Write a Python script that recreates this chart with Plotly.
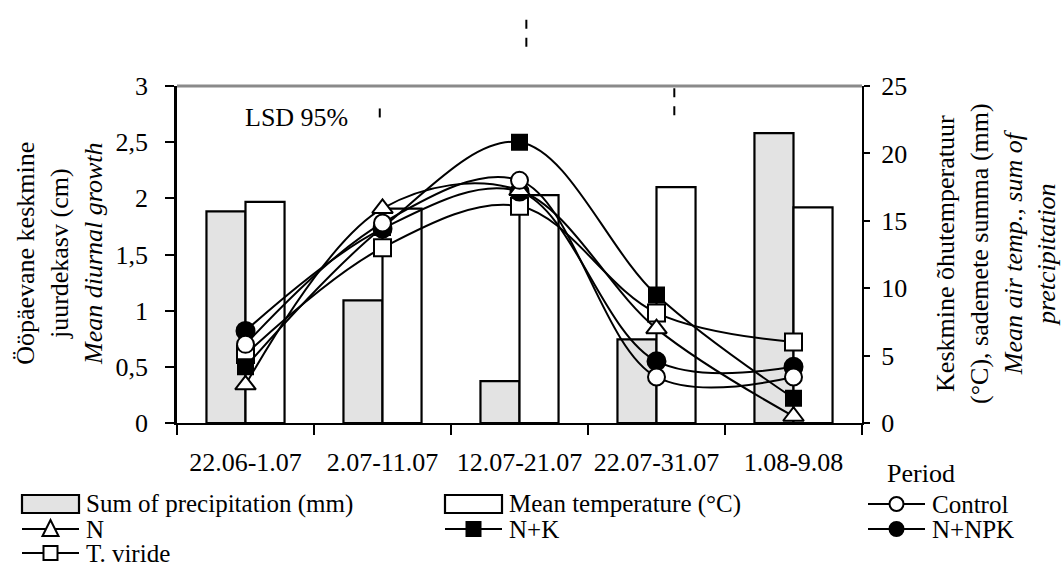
import plotly.graph_objects as go

# ---------------- data ----------------
categories = ["22.06-1.07", "2.07-11.07", "12.07-21.07", "22.07-31.07", "1.08-9.08"]
precipitation = [15.7, 9.1, 3.1, 6.2, 21.5]
temperature = [16.4, 15.9, 16.9, 17.5, 16.0]

control = [0.70, 1.78, 2.16, 0.41, 0.41]
n_treat = [0.34, 1.91, 2.07, 0.84, 0.06]
nk_treat = [0.50, 1.74, 2.50, 1.14, 0.22]
nnpk_treat = [0.82, 1.73, 2.06, 0.55, 0.50]
tviride = [0.61, 1.56, 1.93, 0.98, 0.72]

# LSD 95% dashed markers (category position, centre and half length on growth axis)
lsd_x = [0.98, 2.05, 3.13]
lsd_center = [2.79, 3.50, 2.88]
lsd_half = [0.07, 0.15, 0.14]

left_tick_vals = [0, 0.5, 1, 1.5, 2, 2.5, 3]
right_tick_vals = [0, 5, 10, 15, 20, 25]

FONT = "Liberation Serif, Times New Roman, serif"
FS = 26
LEG_FS = 25

# figure geometry (pixels)
W_FIG, H_FIG = 1064, 569
L, R, T, B = 177, 862, 86, 423
PW, PH = R - L, B - T


def px(x):
    return (x - L) / PW


def py(y):
    return (B - y) / PH


fig = go.Figure()

# bars on primary (right) axis so lines on overlaying axis are drawn on top
fig.add_trace(go.Bar(x=categories, y=precipitation, name="Sum of precipitation (mm)",
                     marker=dict(color="#e3e3e3", line=dict(color="black", width=2.2)),
                     yaxis="y", showlegend=False))
fig.add_trace(go.Bar(x=categories, y=temperature, name="Mean temperature (°C)",
                     marker=dict(color="white", line=dict(color="black", width=2.2)),
                     yaxis="y", showlegend=False))

series = [
    ("T. viride", tviride, "square", "white", 17),
    ("N+NPK", nnpk_treat, "circle", "black", 18),
    ("N", n_treat, "triangle-up", "white", 18),
    ("N+K", nk_treat, "square", "black", 15),
    ("Control", control, "circle", "white", 17),
]
for name, vals, sym, fill, size in series:
    fig.add_trace(go.Scatter(
        x=categories, y=vals, name=name, mode="lines+markers", yaxis="y2",
        line=dict(color="black", width=2, shape="spline", smoothing=1.0),
        marker=dict(symbol=sym, color=fill, size=size, line=dict(color="black", width=2)),
        showlegend=False, cliponaxis=False))

shapes = []
annotations = []

# top frame line (grey)
shapes.append(dict(type="line", xref="paper", yref="paper", x0=0, x1=1, y0=1, y1=1,
                   line=dict(color="#8a8a8a", width=3)))

# LSD dashed markers
for xv, c, h in zip(lsd_x, lsd_center, lsd_half):
    shapes.append(dict(type="line", xref="x", yref="paper", x0=xv, x1=xv,
                       y0=(c - h) / 3.0, y1=(c + h) / 3.0,
                       line=dict(color="black", width=2, dash="dash")))

annotations.append(dict(text="LSD 95%", xref="paper", yref="paper", x=px(243), y=py(118),
                        xanchor="left", yanchor="middle", showarrow=False,
                        font=dict(family=FONT, size=FS, color="black")))

annotations.append(dict(text="Period", xref="paper", yref="paper", x=px(921), y=py(473),
                        xanchor="center", yanchor="middle", showarrow=False,
                        font=dict(family=FONT, size=FS, color="black")))

# axis titles
annotations.append(dict(text="Ööpäevane keskmine<br>juurdekasv (cm)<br><i>Mean diurnal growth</i>",
                        xref="paper", yref="paper", x=px(59), y=py(254), textangle=-90,
                        xanchor="center", yanchor="middle", showarrow=False, align="center",
                        font=dict(family=FONT, size=FS, color="black")))
annotations.append(dict(text="Keskmine õhutemperatuur<br>(°C), sademete summa (mm)<br>"
                             "<i>Mean air temp., sum of</i><br><i>pretcipitation</i>",
                        xref="paper", yref="paper", x=px(996), y=py(254), textangle=-90,
                        xanchor="center", yanchor="middle", showarrow=False, align="center",
                        font=dict(family=FONT, size=FS, color="black")))

# ---------------- manual legend ----------------
legend_items = [
    ("Sum of precipitation (mm)", "bar", "#e3e3e3"),
    ("Mean temperature (°C)", "bar", "white"),
    ("Control", "circle", "white"),
    ("N", "triangle", "white"),
    ("N+K", "square", "black"),
    ("N+NPK", "circle", "black"),
    ("T. viride", "square", "white"),
]
col_x = [22, 445, 868]
row_y = [504, 529, 553]
sym_w = 57
for i, (label, kind, fill) in enumerate(legend_items):
    cx0 = col_x[i % 3]
    cy = row_y[i // 3]
    if kind == "bar":
        shapes.append(dict(type="rect", xref="paper", yref="paper",
                           x0=px(cx0), x1=px(cx0 + sym_w), y0=py(cy - 9), y1=py(cy + 9),
                           fillcolor=fill, line=dict(color="black", width=2.2)))
    else:
        shapes.append(dict(type="line", xref="paper", yref="paper",
                           x0=px(cx0), x1=px(cx0 + sym_w), y0=py(cy), y1=py(cy),
                           line=dict(color="black", width=2)))
        mx = cx0 + sym_w / 2
        r = 7
        if kind == "circle":
            shapes.append(dict(type="circle", xref="paper", yref="paper",
                               x0=px(mx - r), x1=px(mx + r), y0=py(cy - r), y1=py(cy + r),
                               fillcolor=fill, line=dict(color="black", width=2)))
        elif kind == "square":
            shapes.append(dict(type="rect", xref="paper", yref="paper",
                               x0=px(mx - r), x1=px(mx + r), y0=py(cy - r), y1=py(cy + r),
                               fillcolor=fill, line=dict(color="black", width=2)))
        elif kind == "triangle":
            path = "M {} {} L {} {} L {} {} Z".format(
                px(mx - 8), py(cy + 7), px(mx + 8), py(cy + 7), px(mx), py(cy - 9))
            shapes.append(dict(type="path", xref="paper", yref="paper", path=path,
                               fillcolor=fill, line=dict(color="black", width=2)))
    annotations.append(dict(text=label, xref="paper", yref="paper",
                            x=px(cx0 + sym_w + 5), y=py(cy), xanchor="left", yanchor="middle",
                            showarrow=False, font=dict(family=FONT, size=LEG_FS, color="black")))

fig.update_layout(
    width=W_FIG, height=H_FIG,
    margin=dict(l=L, r=W_FIG - R, t=T, b=H_FIG - B),
    paper_bgcolor="white", plot_bgcolor="white",
    separators=", ",
    barmode="group", bargap=0.43, bargroupgap=0,
    font=dict(family=FONT, size=FS, color="black"),
    showlegend=False,
    xaxis=dict(type="category", categoryorder="array", categoryarray=categories,
               range=[-0.5, 4.5], showgrid=False, showline=True, linecolor="black", linewidth=2,
               ticks="outside", tickson="boundaries", ticklen=10, tickcolor="black", tickwidth=1.5,
               tickfont=dict(family=FONT, size=FS, color="black"), ticklabelstandoff=15),
    yaxis=dict(side="right", range=[0, 25], tickvals=right_tick_vals, showgrid=False,
               showline=True, linecolor="black", linewidth=2, ticks="outside", ticklen=6,
               tickcolor="black", tickwidth=1.5, zeroline=False,
               tickfont=dict(family=FONT, size=FS, color="black"), ticklabelstandoff=6),
    yaxis2=dict(side="left", overlaying="y", range=[0, 3], tickvals=left_tick_vals,
                showgrid=False, showline=True, linecolor="black", linewidth=2.5,
                ticks="outside", ticklen=9, tickcolor="black", tickwidth=1.5, zeroline=False,
                tickfont=dict(family=FONT, size=FS, color="black"), ticklabelstandoff=12),
    shapes=shapes,
    annotations=annotations,
)

fig.write_html("out.html")
